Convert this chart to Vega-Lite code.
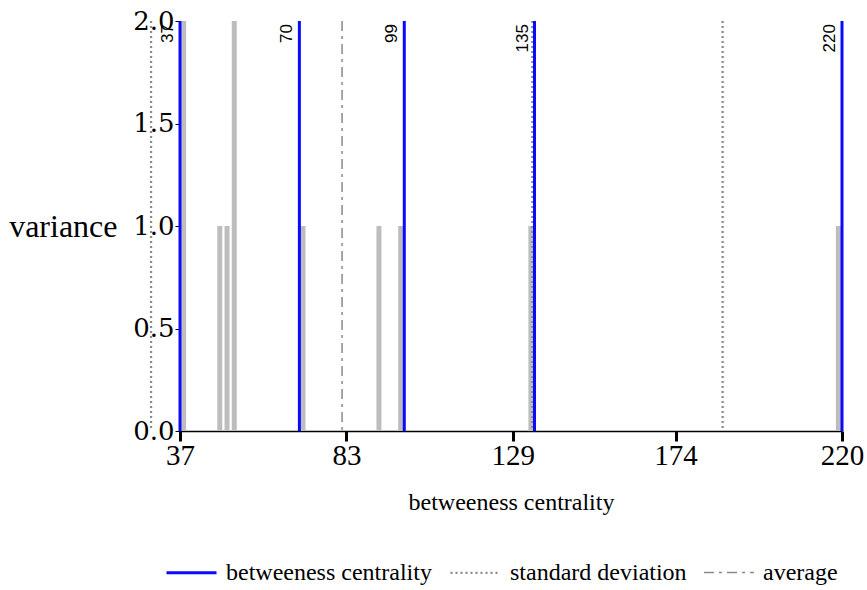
{
  "$schema": "https://vega.github.io/schema/vega-lite/v6.json",
  "width": 662,
  "height": 410,
  "padding": {"left": 8, "top": 8, "right": 0, "bottom": 4},
  "background": "white",
  "config": {"view": {"stroke": null}},
  "datasets": {
    "bars": [
      {"bc": 38, "variance": 2},
      {"bc": 48, "variance": 1},
      {"bc": 50, "variance": 1},
      {"bc": 52, "variance": 2},
      {"bc": 71, "variance": 1},
      {"bc": 92, "variance": 1},
      {"bc": 98, "variance": 1},
      {"bc": 134, "variance": 1},
      {"bc": 219, "variance": 1}
    ],
    "lines": [
      {"bc": 29, "series": "standard deviation"},
      {"bc": 134.4, "series": "standard deviation"},
      {"bc": 187, "series": "standard deviation"},
      {"bc": 81.8, "series": "average"},
      {"bc": 37, "series": "betweeness centrality"},
      {"bc": 70, "series": "betweeness centrality"},
      {"bc": 99, "series": "betweeness centrality"},
      {"bc": 135, "series": "betweeness centrality"},
      {"bc": 220, "series": "betweeness centrality"}
    ],
    "labels": [
      {"bc": 37, "label": "37"},
      {"bc": 70, "label": "70"},
      {"bc": 99, "label": "99"},
      {"bc": 135, "label": "135"},
      {"bc": 220, "label": "220"}
    ]
  },
  "layer": [
    {
      "data": {"name": "bars"},
      "mark": {"type": "bar", "size": 5, "color": "#bdbdbd"},
      "encoding": {
        "x": {
          "field": "bc",
          "type": "quantitative",
          "scale": {"domain": [37, 220], "nice": false, "zero": false, "padding": 0},
          "axis": {
            "values": [37, 83, 129, 174, 220],
            "grid": false,
            "domainColor": "black",
            "domainWidth": 1.5,
            "tickColor": "black",
            "tickWidth": 3,
            "tickSize": 10,
            "labelFont": "Liberation Serif",
            "labelFontSize": 29,
            "labelColor": "black",
            "labelPadding": 0,
            "labelFlush": false,
            "labelOverlap": false,
            "title": "betweeness centrality",
            "titleFont": "Liberation Serif",
            "titleFontSize": 24,
            "titleFontWeight": "normal",
            "titleColor": "black",
            "titlePadding": 20
          }
        },
        "y": {
          "field": "variance",
          "type": "quantitative",
          "scale": {"domain": [0, 2], "nice": false},
          "axis": {
            "values": [0, 0.5, 1, 1.5, 2],
            "format": ".1f",
            "grid": false,
            "domainColor": "black",
            "tickColor": "black",
            "tickSize": 5,
            "labelFont": "DejaVu Serif",
            "labelFontSize": 26,
            "labelColor": "black",
            "labelPadding": 1,
            "labelFlush": false,
            "labelOverlap": false,
            "title": "variance",
            "titleAngle": 0,
            "titleAlign": "right",
            "titleBaseline": "middle",
            "titleX": -63,
            "titleY": 205,
            "titleFont": "Liberation Serif",
            "titleFontSize": 32,
            "titleFontWeight": "normal",
            "titleColor": "black"
          }
        }
      }
    },
    {
      "data": {"name": "lines"},
      "mark": {"type": "rule"},
      "encoding": {
        "x": {"field": "bc", "type": "quantitative"},
        "color": {
          "field": "series",
          "type": "nominal",
          "scale": {
            "domain": ["betweeness centrality", "standard deviation", "average"],
            "range": ["#0a0aff", "#8a8a8a", "#8a8a8a"]
          },
          "legend": {
            "title": null,
            "orient": "none",
            "legendX": -15,
            "legendY": 525,
            "direction": "horizontal",
            "symbolType": "stroke",
            "symbolSize": 2500,
            "labelFont": "Liberation Serif",
            "labelFontSize": 24,
            "labelColor": "black",
            "labelLimit": 400,
            "labelOffset": 8,
            "columnPadding": 14
          }
        },
        "strokeDash": {
          "field": "series",
          "type": "nominal",
          "scale": {
            "domain": ["betweeness centrality", "standard deviation", "average"],
            "range": [[1, 0], [2, 3], [10, 5, 3, 5]]
          }
        },
        "strokeWidth": {
          "field": "series",
          "type": "nominal",
          "scale": {
            "domain": ["betweeness centrality", "standard deviation", "average"],
            "range": [3, 1.5, 1.5]
          }
        }
      }
    },
    {
      "data": {"name": "labels"},
      "mark": {
        "type": "text",
        "angle": 270,
        "align": "right",
        "baseline": "bottom",
        "dx": -3,
        "dy": -3,
        "font": "Liberation Sans",
        "fontSize": 17,
        "color": "black"
      },
      "encoding": {
        "x": {"field": "bc", "type": "quantitative"},
        "y": {"datum": 2},
        "text": {"field": "label"}
      }
    }
  ]
}
